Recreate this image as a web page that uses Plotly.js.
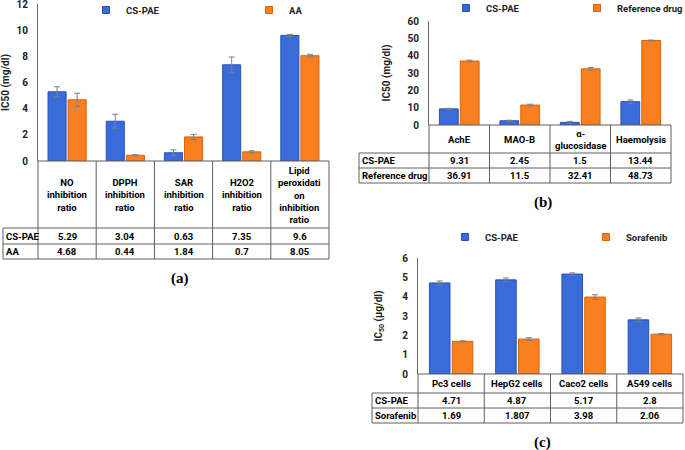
<!DOCTYPE html>
<html><head><meta charset="utf-8">
<script src="https://cdn.plot.ly/plotly-3.0.1.min.js"></script>
<style>html,body{margin:0;padding:0;background:#fff}#chart{width:685px;height:450px}</style>
</head><body><div id="chart"></div>
<script>
// ---------- DATA ----------
// Panel (a)
const catsA = ['NO inhibition ratio','DPPH inhibition ratio','SAR inhibition ratio','H2O2 inhibition ratio','Lipid peroxidation inhibition ratio'];
const headA = ['NO<br>inhibition<br>ratio','DPPH<br>inhibition<br>ratio','SAR<br>inhibition<br>ratio','H2O2<br>inhibition<br>ratio','Lipid<br>peroxidati<br>on<br>inhibition<br>ratio'];
const csPaeA = [5.29, 3.04, 0.63, 7.35, 9.6];
const aaA = [4.68, 0.44, 1.84, 0.7, 8.05];
const csPaeAErr = [0.38, 0.53, 0.22, 0.6, 0.08];
const aaAErr = [0.5, 0.04, 0.19, 0.08, 0.1];
// Panel (b)
const catsB = ['AchE','MAO-B','α-glucosidase','Haemolysis'];
const headB = ['AchE','MAO-B','α-<br>glucosidase','Haemolysis'];
const csPaeB = [9.31, 2.45, 1.5, 13.44];
const refB = [36.91, 11.5, 32.41, 48.73];
const csPaeBErr = [0.3, 0.3, 0.6, 1.0];
const refBErr = [0.5, 0.5, 0.8, 0.3];
// Panel (c)
const catsC = ['Pc3 cells','HepG2 cells','Caco2 cells','A549 cells'];
const headC = ['Pc3 cells','HepG2 cells','Caco2 cells','A549 cells'];
const csPaeC = [4.71, 4.87, 5.17, 2.8];
const sorC = [1.69, 1.807, 3.98, 2.06];
const csPaeCErr = [0.1, 0.1, 0.06, 0.1];
const sorCErr = [0.03, 0.07, 0.12, 0.03];
const rowLabelsA = ['CS-PAE','AA'];
const rowLabelsB = ['CS-PAE','Reference drug'];
const rowLabelsC = ['CS-PAE','Sorafenib'];
const tickValsA = [0,2,4,6,8,10,12];
const tickValsB = [0,10,20,30,40,50,60];
const tickValsC = [0,1,2,3,4,5,6];

// ---------- LAYOUT HELPERS ----------
const W = 685, H = 450;
const px = v => v / W, py = v => 1 - v / H;
const FONT = 'Roboto, Arial, sans-serif';
const BLUE = '#3A6BDB', BLUE_LINE = '#2852B8';
const ORANGE = '#FA7F1E', ORANGE_LINE = '#D9640A';
const ERR = '#7f7f7f', GRID = '#5f5f5f';

const panels = [
  {id:'', cats:catsA, head:headA, s1:csPaeA, s2:aaA, e1:csPaeAErr, e2:aaAErr, names:['CS-PAE','AA'], rows:rowLabelsA,
   x0:38, x1:329, yt:4, y0:161, range:[0,12], tv:tickValsA, hb:228, r1:244, r2:259, lab:3, so:6,
   title:'IC50 (mg/dl)', cap:'(a)', capx:180, capy:278, legx:86, legy:10, legw:118},
  {id:'2', cats:catsB, head:headB, s1:csPaeB, s2:refB, e1:csPaeBErr, e2:refBErr, names:['CS-PAE','Reference drug'], rows:rowLabelsB,
   x0:429, x1:671, yt:21, y0:125, range:[0,60], tv:tickValsB, hb:153, r1:168, r2:183, lab:359, so:15,
   title:'IC50 (mg/dl)', cap:'(b)', capx:543, capy:202, legx:446, legy:8, legw:86},
  {id:'3', cats:catsC, head:headC, s1:csPaeC, s2:sorC, e1:csPaeCErr, e2:sorCErr, names:['CS-PAE','Sorafenib'], rows:rowLabelsC,
   x0:418, x1:683, yt:258, y0:374, range:[0,6], tv:tickValsC, hb:393, r1:408, r2:423, lab:372, so:17,
   title:'IC<sub>50</sub> (µg/dl)', cap:'(c)', capx:542, capy:442, legx:445, legy:237, legw:96}
];

const data = [], shapes = [], annotations = [];
const layout = {
  width: W, height: H, margin:{l:0,r:0,t:0,b:0,autoexpand:false},
  paper_bgcolor:'#fff', plot_bgcolor:'#fff',
  barmode:'group', bargap:0.31, bargroupgap:0.1,
  font:{family:FONT, color:'#000'},
  showlegend:true
};
const lineStyle = {color:GRID, width:1};
const tfont = {family:FONT, size:9.5, color:'#000', weight:'bold'};

panels.forEach(p => {
  const xa = 'x' + p.id, ya = 'y' + p.id;
  const legName = 'legend' + p.id;
  [[p.s1, p.e1, BLUE, BLUE_LINE, p.names[0]], [p.s2, p.e2, ORANGE, ORANGE_LINE, p.names[1]]].forEach(([vals, errs, col, lcol, nm]) => {
    data.push({type:'bar', x:p.cats, y:vals, xaxis:xa, yaxis:ya, name:nm, showlegend:false,
      marker:{color:col, line:{color:lcol, width:1}},
      error_y:{type:'data', array:errs, visible:true, color:ERR, thickness:1, width:3}});
    data.push({type:'scatter', mode:'markers', x:[null], y:[null], xaxis:xa, yaxis:ya, name:nm, legend:legName,
      marker:{symbol:'square', size:7, color:col, line:{color:lcol, width:1}}});
  });
  layout['xaxis' + p.id] = {domain:[px(p.x0), px(p.x1)], anchor:ya, type:'category', categoryarray:p.cats,
    showticklabels:false, showline:false, showgrid:false, zeroline:false, ticks:'', fixedrange:true, automargin:false};
  layout['yaxis' + p.id] = {domain:[py(p.y0), py(p.yt)], anchor:xa, range:p.range, tickvals:p.tv, automargin:false,
    showline:true, linecolor:'#6a6a6a', linewidth:1, showgrid:false, zeroline:false, ticks:'',
    ticklabeloverflow:'allow', ticklabelstandoff:7, tickfont:{family:FONT, size:10, color:'#222', weight:'bold'},
    title:{text:p.title, standoff:p.so, font:{family:FONT, size:10, color:'#222', weight:'bold'}}, fixedrange:true};
  layout[legName] = {orientation:'h', x:px(p.legx), y:py(p.legy), xanchor:'left', yanchor:'middle',
    entrywidth:p.legw, entrywidthmode:'pixels', itemwidth:30, bgcolor:'rgba(0,0,0,0)',
    font:{family:FONT, size:9.5, color:'#222', weight:'bold'}};

  // table grid
  const n = p.cats.length;
  for (let i = 0; i <= n; i++) {
    const xx = px(p.x0 + i * (p.x1 - p.x0) / n);
    shapes.push({type:'line', xref:'paper', yref:'paper', x0:xx, x1:xx, y0:py(p.y0), y1:py(p.r2), line:lineStyle});
  }
  shapes.push({type:'line', xref:'paper', yref:'paper', x0:px(p.lab), x1:px(p.lab), y0:py(p.hb), y1:py(p.r2), line:lineStyle});
  shapes.push({type:'line', xref:'paper', yref:'paper', x0:px(p.x0), x1:px(p.x1), y0:py(p.y0), y1:py(p.y0), line:lineStyle});
  [p.hb, p.r1, p.r2].forEach(yy => shapes.push({type:'line', xref:'paper', yref:'paper', x0:px(p.lab), x1:px(p.x1), y0:py(yy), y1:py(yy), line:lineStyle}));

  // table text
  p.cats.forEach((c, i) => {
    annotations.push({xref:xa, yref:'paper', x:c, y:py((p.y0 + p.hb) / 2), text:p.head[i], showarrow:false, yanchor:'middle', font:tfont});
    annotations.push({xref:xa, yref:'paper', x:c, y:py((p.hb + p.r1) / 2), text:String(p.s1[i]), showarrow:false, yanchor:'middle', font:tfont});
    annotations.push({xref:xa, yref:'paper', x:c, y:py((p.r1 + p.r2) / 2), text:String(p.s2[i]), showarrow:false, yanchor:'middle', font:tfont});
  });
  annotations.push({xref:'paper', yref:'paper', x:px(p.lab + 1), y:py((p.hb + p.r1) / 2), text:p.rows[0], showarrow:false, xanchor:'left', yanchor:'middle', font:tfont});
  annotations.push({xref:'paper', yref:'paper', x:px(p.lab + 1), y:py((p.r1 + p.r2) / 2), text:p.rows[1], showarrow:false, xanchor:'left', yanchor:'middle', font:tfont});
  annotations.push({xref:'paper', yref:'paper', x:px(p.capx), y:py(p.capy), text:p.cap, showarrow:false, xanchor:'center', yanchor:'middle',
    font:{family:'Liberation Serif, Times New Roman, serif', size:15, color:'#000', weight:'bold'}});
});
layout.shapes = shapes;
layout.annotations = annotations;

Plotly.newPlot('chart', data, layout, {displayModeBar:false, staticPlot:true});
</script>
</body></html>
